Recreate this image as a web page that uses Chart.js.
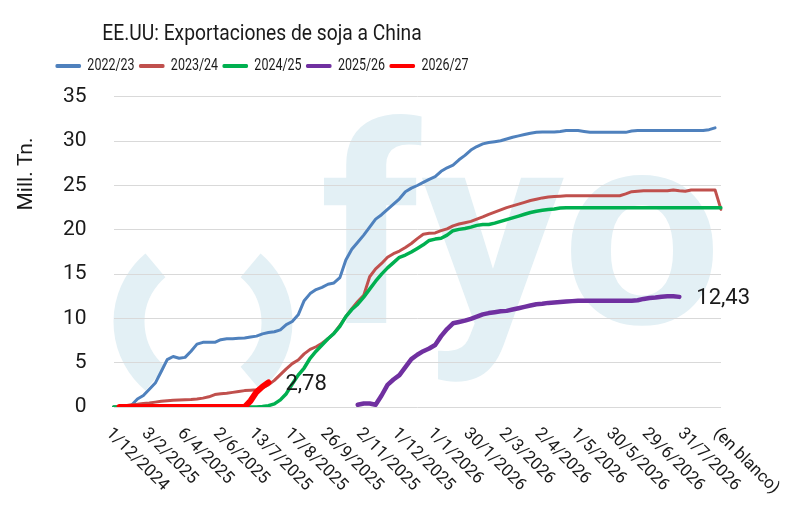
<!DOCTYPE html>
<html>
<head>
<meta charset="utf-8">
<script src="https://cdn.jsdelivr.net/npm/chart.js@4.4.1/dist/chart.umd.min.js"></script>
<style>
  html, body { margin: 0; padding: 0; background: #fff; }
  #wrap { width: 800px; height: 524px; }
</style>
</head>
<body>
<div id="wrap"><canvas id="myChart" width="800" height="524"></canvas></div>
<script>
const chartTitle = 'EE.UU: Exportaciones de soja a China';
const yTitle = 'Mill. Tn.';

// labelled categories on the x axis, one every `stepsPerLabel` points
const tickLabels = ['1/12/2024', '3/2/2025', '6/4/2025', '2/6/2025', '13/7/2025', '17/8/2025',
  '26/9/2025', '2/11/2025', '1/12/2025', '1/1/2026', '30/1/2026', '2/3/2026', '2/4/2026',
  '1/5/2026', '30/5/2026', '29/6/2026', '31/7/2026', '(en blanco)'];
const stepsPerLabel = 6;

const seriesNames = ['2022/23', '2023/24', '2024/25', '2025/26', '2026/27'];
const seriesColors = ['#4F81BD', '#C0504D', '#00B050', '#7030A0', '#FF0000'];
const seriesWidths = [3, 3, 3.5, 4.5, 6];

const s2022 = [
  0, 0, 0, 0.2, 0.9, 1.3, 2.0, 2.7, 4.0, 5.35,
  5.7, 5.5, 5.6, 6.3, 7.1, 7.3, 7.3, 7.3, 7.6, 7.7,
  7.7, 7.75, 7.8, 7.9, 8.0, 8.25, 8.4, 8.5, 8.7, 9.3,
  9.65, 10.4, 12.0, 12.8, 13.25, 13.5, 13.85, 14.0, 14.6, 16.6,
  17.8, 18.6, 19.4, 20.3, 21.2, 21.7, 22.3, 22.9, 23.5, 24.3,
  24.7, 25.0, 25.35, 25.7, 26.0, 26.6, 27.0, 27.3, 27.9, 28.4,
  29.0, 29.4, 29.7, 29.85, 29.95, 30.05, 30.25, 30.45, 30.6, 30.75,
  30.9, 31.0, 31.05, 31.05, 31.05, 31.1, 31.2, 31.2, 31.2, 31.1,
  31.0, 31.0, 31.0, 31.0, 31.0, 31.0, 31.0, 31.15, 31.2, 31.2,
  31.2, 31.2, 31.2, 31.2, 31.2, 31.2, 31.2, 31.2, 31.2, 31.2,
  31.3, 31.5, null
];
const s2023 = [
  0, 0, 0.15, 0.25, 0.3, 0.4, 0.45, 0.55, 0.65, 0.7,
  0.75, 0.8, 0.82, 0.85, 0.9, 1.0, 1.15, 1.4, 1.5, 1.55,
  1.65, 1.75, 1.85, 1.9, 1.95, 2.2, 2.5, 3.0, 3.65, 4.3,
  4.9, 5.3, 6.0, 6.5, 6.8, 7.2, 7.7, 8.3, 9.2, 10.2,
  11.1, 11.9, 12.6, 14.7, 15.6, 16.2, 16.9, 17.3, 17.6, 18.0,
  18.45, 19.0, 19.5, 19.6, 19.65, 19.9, 20.1, 20.45, 20.65, 20.8,
  20.95, 21.2, 21.45, 21.75, 22.0, 22.25, 22.5, 22.7, 22.9, 23.1,
  23.3, 23.45, 23.6, 23.7, 23.75, 23.8, 23.85, 23.85, 23.85, 23.85,
  23.85, 23.85, 23.85, 23.85, 23.85, 23.85, 24.05, 24.3, 24.35, 24.4,
  24.4, 24.4, 24.4, 24.4, 24.5, 24.4, 24.35, 24.5, 24.5, 24.5,
  24.5, 24.5, 22.3
];
const s2024 = [
  0, 0, 0, 0, 0, 0, 0, 0, 0, 0,
  0, 0, 0, 0, 0, 0, 0, 0, 0, 0,
  0, 0, 0, 0, 0, 0.05, 0.15, 0.35, 0.8, 1.5,
  2.6, 3.6, 4.4, 5.5, 6.3, 7.0, 7.7, 8.3, 9.1, 10.2,
  11.0, 11.6, 12.4, 13.3, 14.2, 15.0, 15.7, 16.3, 16.9, 17.15,
  17.5, 17.9, 18.3, 18.8, 18.95, 19.05, 19.4, 19.9, 20.05, 20.15,
  20.3, 20.5, 20.6, 20.6, 20.75, 20.95, 21.15, 21.35, 21.55, 21.75,
  21.95, 22.1, 22.2, 22.3, 22.35, 22.45, 22.5, 22.5, 22.5, 22.5,
  22.5, 22.5, 22.5, 22.5, 22.5, 22.5, 22.5, 22.5, 22.5, 22.5,
  22.5, 22.5, 22.5, 22.5, 22.5, 22.5, 22.5, 22.5, 22.5, 22.5,
  22.5, 22.5, 22.5
];
const s2025 = [
  null, null, null, null, null, null, null, null, null, null,
  null, null, null, null, null, null, null, null, null, null,
  null, null, null, null, null, null, null, null, null, null,
  null, null, null, null, null, null, null, null, null, null,
  null, 0.25, 0.4, 0.4, 0.25, 1.3, 2.5, 3.1, 3.6, 4.5,
  5.4, 5.9, 6.3, 6.6, 7.0, 8.0, 8.8, 9.45, 9.6, 9.75,
  9.95, 10.2, 10.45, 10.6, 10.7, 10.8, 10.85, 11.0, 11.15, 11.3,
  11.45, 11.6, 11.65, 11.75, 11.8, 11.85, 11.9, 11.95, 12.0, 12.0,
  12.0, 12.0, 12.0, 12.0, 12.0, 12.0, 12.0, 12.0, 12.05, 12.2,
  12.3, 12.35, 12.45, 12.5, 12.5, 12.43
];
const s2026 = [
  null, 0, 0, 0, 0, 0, 0, 0, 0, 0,
  0, 0, 0, 0, 0, 0, 0, 0, 0, 0,
  0, 0, 0, 0.7, 1.7, 2.3, 2.78
];
const seriesData = [s2022, s2023, s2024, s2025, s2026];
const endLabels = [false, false, false, true, true];

const categories = [];
for (let i = 0; i < (tickLabels.length - 1) * stepsPerLabel + 1; i++) {
  categories.push(i % stepsPerLabel === 0 ? tickLabels[i / stepsPerLabel] : '');
}

const textColor = '#1a1a1a';
const mark = '#E3F0F5';
const headCenter = 262;   // title and legend sit left of the canvas centre
const legendGap = 13;

Chart.defaults.font.family = 'Roboto';
Chart.defaults.color = textColor;

// big light "( ) fyo" mark behind the plot
const watermark = {
  id: 'watermark',
  beforeDraw(chart) {
    const ctx = chart.ctx;
    ctx.save();
    ctx.fillStyle = '#fff';
    ctx.fillRect(0, 0, chart.width, chart.height);
    ctx.strokeStyle = mark;
    ctx.fillStyle = mark;
    ctx.lineWidth = 31;
    ctx.beginPath();
    ctx.arc(203, 322, 74, Math.PI * 130 / 180, Math.PI * 230 / 180);
    ctx.stroke();
    ctx.beginPath();
    ctx.arc(203, 322, 74, -Math.PI * 50 / 180, Math.PI * 50 / 180);
    ctx.stroke();
    ctx.font = 'bold 275px Roboto';
    ctx.textBaseline = 'alphabetic';
    ctx.textAlign = 'left';
    const w = ctx.measureText('fyo').width;
    ctx.translate(320, 323);
    ctx.scale(402 / w, 1);
    ctx.fillText('fyo', 0, 0);
    ctx.restore();
  }
};

// narrow a box horizontally around its own centre
function squeeze(box, k) {
  const draw = box.draw;
  box.draw = function () {
    const c = this.ctx;
    const cx = (this.left + this.right) / 2;
    c.save();
    c.translate(cx, 0);
    c.scale(k, 1);
    c.translate(-cx, 0);
    draw.apply(this, arguments);
    c.restore();
  };
}

// move title + legend, narrow them, and leave a gap under the legend
const headShift = {
  id: 'headShift',
  beforeInit(chart) {
    const fit = chart.legend.fit;
    chart.legend.fit = function () {
      fit.call(this);
      this.height += legendGap;
    };
    squeeze(chart.legend, 0.78);
    squeeze(chart.titleBlock, 0.875);
  },
  afterLayout(chart) {
    [chart.titleBlock, chart.legend].forEach(box => {
      const d = headCenter - (box.left + box.right) / 2;
      box.left += d;
      box.right += d;
    });
  }
};

// axis title, slanted x labels and the end values
const extraText = {
  id: 'extraText',
  afterDraw(chart) {
    const ctx = chart.ctx;
    const xScale = chart.scales.x;
    ctx.save();
    ctx.fillStyle = textColor;

    ctx.font = '21px Roboto';
    ctx.textAlign = 'center';
    ctx.textBaseline = 'middle';
    ctx.save();
    ctx.translate(27, 174);
    ctx.rotate(-Math.PI / 2);
    ctx.fillText(yTitle, 0, 0);
    ctx.restore();

    ctx.font = '17px Roboto';
    ctx.textAlign = 'left';
    categories.forEach((lab, i) => {
      if (!lab) return;
      const x = xScale.getPixelForValue(i);
      ctx.save();
      ctx.translate(x - 5, chart.chartArea.bottom + 24);
      ctx.rotate(Math.PI / 4);
      ctx.fillText(lab, 0, 0);
      ctx.restore();
    });

    ctx.font = '22px Roboto';
    chart.data.datasets.forEach((ds, di) => {
      if (!endLabels[di]) return;
      let last = ds.data.length - 1;
      while (ds.data[last] == null) last--;
      const pt = chart.getDatasetMeta(di).data[last];
      ctx.fillText(ds.data[last].toFixed(2).replace('.', ','), pt.x + 17, pt.y + 2);
    });
    ctx.restore();
  }
};

const ctx = document.getElementById('myChart');
new Chart(ctx, {
  type: 'line',
  data: {
    labels: categories,
    datasets: seriesNames.map((name, i) => ({
      label: name,
      data: seriesData[i],
      borderColor: seriesColors[i],
      backgroundColor: seriesColors[i],
      borderWidth: seriesWidths[i],
      pointRadius: 0,
      tension: 0,
      borderJoinStyle: 'round',
      borderCapStyle: 'round',
      order: seriesNames.length - i
    }))
  },
  options: {
    responsive: false,
    animation: false,
    layout: { padding: { left: 36, right: 79, top: 0, bottom: 117 } },
    plugins: {
      title: {
        display: true,
        text: chartTitle,
        color: textColor,
        font: { size: 22, weight: 'normal' },
        padding: { top: 21, bottom: 5 }
      },
      legend: {
        position: 'top',
        labels: {
          font: { size: 16 },
          color: textColor,
          boxWidth: 33,
          boxHeight: 4,
          padding: 5.5,
          useBorderRadius: true,
          borderRadius: 2,
          sort: (a, b) => a.datasetIndex - b.datasetIndex,
          generateLabels(chart) {
            return Chart.defaults.plugins.legend.labels.generateLabels(chart).map(item => {
              item.lineWidth = 0;
              item.fillStyle = item.strokeStyle;
              return item;
            });
          }
        }
      },
      tooltip: { enabled: false }
    },
    scales: {
      x: {
        ticks: { display: false },
        grid: { display: false, drawTicks: false },
        border: { display: false }
      },
      y: {
        min: 0,
        max: 35,
        ticks: { stepSize: 5, padding: 27, font: { size: 21 }, color: textColor },
        grid: { color: '#D9D9D9', lineWidth: 1, drawTicks: false },
        border: { display: false }
      }
    }
  },
  plugins: [watermark, headShift, extraText]
});
</script>
</body>
</html>
